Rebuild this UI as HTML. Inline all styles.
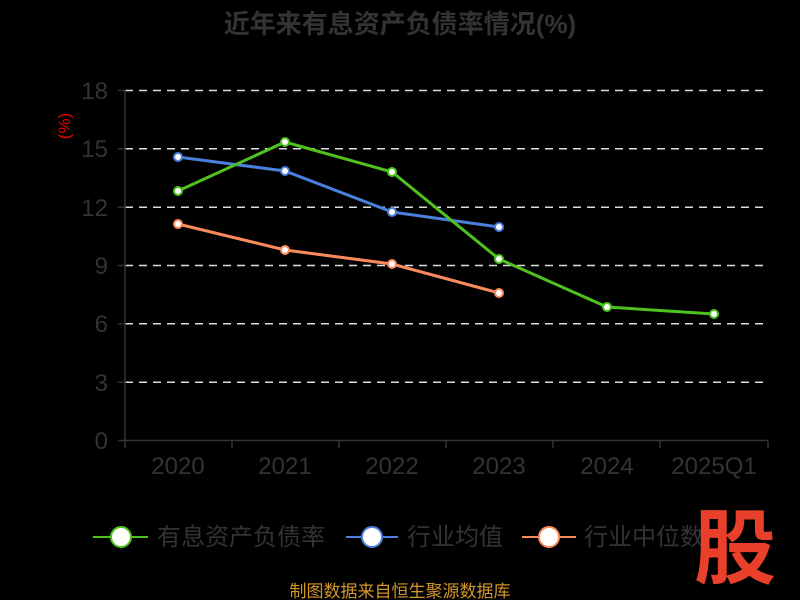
<!DOCTYPE html>
<html><head><meta charset="utf-8"><style>
html,body{margin:0;padding:0;background:#000;}
svg{display:block;font-family:"Liberation Sans","Noto Sans CJK SC",sans-serif;}
</style></head><body>
<svg width="800" height="600" viewBox="0 0 800 600">
<rect width="800" height="600" fill="#000"/>
<text x="400" y="33" text-anchor="middle" font-size="26" font-weight="bold" fill="#333">近年来有息资产负债率情况(%)</text>
<text transform="translate(70,126) rotate(-90)" text-anchor="middle" font-size="17" fill="#e00">(%)</text>
<g stroke="#ddd" stroke-width="1.5" stroke-dasharray="8,6">
<line x1="125" y1="90.5" x2="768" y2="90.5"/>
<line x1="125" y1="148.8" x2="768" y2="148.8"/>
<line x1="125" y1="207.2" x2="768" y2="207.2"/>
<line x1="125" y1="265.5" x2="768" y2="265.5"/>
<line x1="125" y1="323.8" x2="768" y2="323.8"/>
<line x1="125" y1="382.2" x2="768" y2="382.2"/>
</g>
<g stroke="#333" stroke-width="1.5">
<line x1="125" y1="90" x2="125" y2="441"/>
<line x1="118" y1="90.5" x2="125" y2="90.5"/><line x1="118" y1="148.8" x2="125" y2="148.8"/><line x1="118" y1="207.2" x2="125" y2="207.2"/><line x1="118" y1="265.5" x2="125" y2="265.5"/><line x1="118" y1="323.8" x2="125" y2="323.8"/><line x1="118" y1="382.2" x2="125" y2="382.2"/><line x1="118" y1="440.5" x2="125" y2="440.5"/>
<line x1="125" y1="440.5" x2="768" y2="440.5"/>
<line x1="125" y1="441" x2="125" y2="448"/><line x1="232" y1="441" x2="232" y2="448"/><line x1="339" y1="441" x2="339" y2="448"/><line x1="446" y1="441" x2="446" y2="448"/><line x1="553" y1="441" x2="553" y2="448"/><line x1="660" y1="441" x2="660" y2="448"/><line x1="768" y1="441" x2="768" y2="448"/>
</g>
<g font-size="24" fill="#333" text-anchor="end">
<text x="108" y="99">18</text><text x="108" y="157">15</text><text x="108" y="216">12</text><text x="108" y="274">9</text><text x="108" y="332">6</text><text x="108" y="391">3</text><text x="108" y="449">0</text>
</g>
<g font-size="24" fill="#333" text-anchor="middle">
<text x="178" y="474">2020</text><text x="285" y="474">2021</text><text x="392" y="474">2022</text><text x="499" y="474">2023</text><text x="607" y="474">2024</text><text x="714" y="474">2025Q1</text>
</g>
<polyline fill="none" stroke="#4a7fdc" stroke-width="3" points="178,157 285,171 392,212 499,227"/>
<polyline fill="none" stroke="#f98a5c" stroke-width="3" points="178,224 285,250 392,264 499,293"/>
<polyline fill="none" stroke="#4fc21e" stroke-width="3" points="178,191 285,142 392,172 499,259 607,307 714,314"/>
<g fill="#fff" stroke-width="2">
<g stroke="#4a7fdc"><circle cx="178" cy="157" r="4"/><circle cx="285" cy="171" r="4"/><circle cx="392" cy="212" r="4"/><circle cx="499" cy="227" r="4"/></g>
<g stroke="#f98a5c"><circle cx="178" cy="224" r="4"/><circle cx="285" cy="250" r="4"/><circle cx="392" cy="264" r="4"/><circle cx="499" cy="293" r="4"/></g>
<g stroke="#4fc21e"><circle cx="178" cy="191" r="4"/><circle cx="285" cy="142" r="4"/><circle cx="392" cy="172" r="4"/><circle cx="499" cy="259" r="4"/><circle cx="607" cy="307" r="4"/><circle cx="714" cy="314" r="4"/></g>
</g>
<g stroke-width="2" fill="#fff">
<line x1="93" y1="537" x2="148" y2="537" stroke="#4fc21e"/><circle cx="121" cy="537" r="10" stroke="#4fc21e"/>
<line x1="346" y1="537" x2="398" y2="537" stroke="#4a7fdc"/><circle cx="372" cy="537" r="10" stroke="#4a7fdc"/>
<line x1="522" y1="537" x2="576" y2="537" stroke="#f98a5c"/><circle cx="549" cy="537" r="10" stroke="#f98a5c"/>
</g>
<g font-size="24" fill="#333">
<text x="157" y="545">有息资产负债率</text><text x="407" y="545">行业均值</text><text x="584" y="545">行业中位数</text>
</g>
<text x="735" y="577" text-anchor="middle" font-size="82" font-weight="bold" fill="#e8402a">股</text>
<text x="400" y="597" text-anchor="middle" font-size="17" fill="#d4962a">制图数据来自恒生聚源数据库</text>
</svg>
</body></html>
